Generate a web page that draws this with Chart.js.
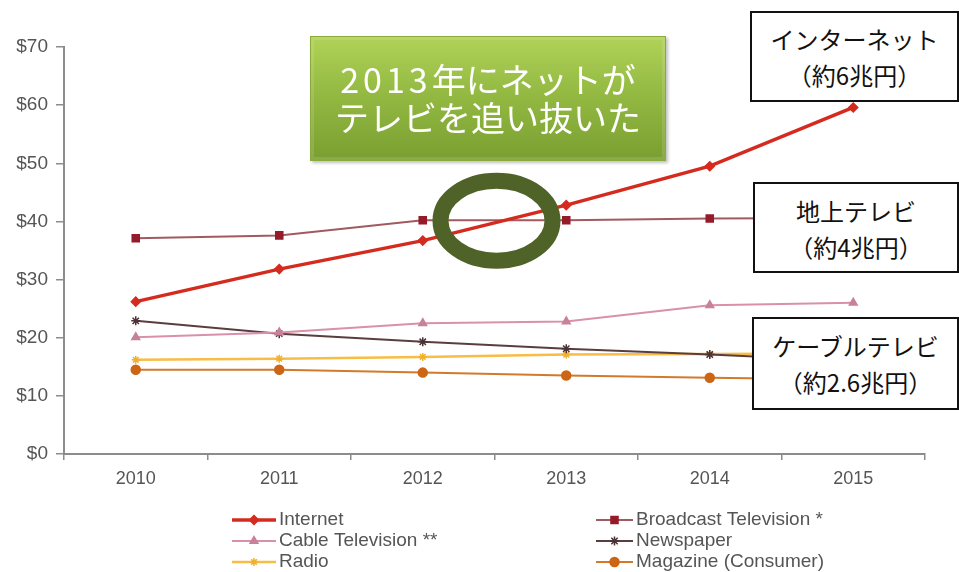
<!DOCTYPE html>
<html>
<head>
<meta charset="utf-8">
<script src="https://cdn.jsdelivr.net/npm/chart.js@4.4.1/dist/chart.umd.min.js"></script>
<style>
  html, body { margin: 0; padding: 0; background: #fff; }
  #wrap { position: relative; width: 959px; height: 572px; overflow: hidden; }
  .note {
    position: absolute; box-sizing: border-box; background: #fff;
    border: 2px solid #111; color: #111; text-align: center;
    font-family: "Noto Sans CJK JP", sans-serif; font-size: 24px; line-height: 36px;
  }
  #callout {
    position: absolute; left: 310px; top: 36px; width: 356px; height: 125px;
    box-sizing: border-box; text-align: center; color: #fff;
    font-family: "Noto Sans CJK JP", sans-serif; font-size: 34px; line-height: 38px;
    padding-top: 23px;
    background: linear-gradient(#b0d257, #94ba43 45%, #7a9f31);
    border: 1px solid #8aab3c;
    box-shadow: inset 0 0 0 3px rgba(255,255,255,0.12), 2px 2px 3px rgba(0,0,0,0.25);
  }
  #callout .yr { letter-spacing: 4px; }
</style>
</head>
<body>
<div id="wrap">
  <canvas id="mediaChart" width="959" height="572"></canvas>
  <div id="callout"><span class="yr">2013</span>年にネットが<br>テレビを追い抜いた</div>
  <div class="note" style="left:750px;top:11px;width:209px;height:91px;padding-top:8px;">インターネット<br>（約6兆円）</div>
  <div class="note" style="left:753px;top:182px;width:206px;height:91px;padding-top:9px;">地上テレビ<br>（約4兆円）</div>
  <div class="note" style="left:752px;top:317px;width:207px;height:93px;padding-top:9px;">ケーブルテレビ<br>（約2.6兆円）</div>
</div>
<script>
// datos (US$ bilhões)
const years = ['2010', '2011', '2012', '2013', '2014', '2015'];
const internet = [26.2, 31.8, 36.7, 42.8, 49.5, 59.6];
const broadcastTv = [37.1, 37.6, 40.2, 40.2, 40.5, 40.6];
const cableTv = [20.1, 20.9, 22.5, 22.8, 25.6, 26.0];
const newspaper = [22.9, 20.7, 19.3, 18.1, 17.1, 16.0];
const radio = [16.2, 16.4, 16.7, 17.1, 17.2, 17.3];
const magazine = [14.5, 14.5, 14.0, 13.5, 13.1, 12.8];
const yTicks = [0, 10, 20, 30, 40, 50, 60, 70];

// onde fica o círculo: entre 2012 e 2013, perto de $40
const crossIndex = 2.5;
const crossValue = 40.3;

const axisGray = '#8c8c8c';
const labelGray = '#555555';

function serie(label, data, color, pointColor, width, style, radius) {
    return {
        label: label,
        data: data,
        borderColor: color,
        backgroundColor: pointColor,
        pointBackgroundColor: pointColor,
        pointBorderColor: pointColor,
        borderWidth: width,
        pointStyle: style,
        pointRadius: radius,
        pointBorderWidth: 1.5,
        tension: 0,
        fill: false
    };
}

// legenda em duas colunas, desenhada no canvas
const legendPlugin = {
    id: 'twoColLegend',
    afterDraw(chart) {
        const ctx = chart.ctx;
        const cols = [{ x0: 232, x1: 276, tx: 279 }, { x0: 596, x1: 633, tx: 636 }];
        const rows = [520, 541, 562];
        ctx.save();
        chart.data.datasets.forEach((ds, i) => {
            const c = cols[i % 2];
            const y = rows[Math.floor(i / 2)];
            ctx.strokeStyle = ds.borderColor;
            ctx.lineWidth = ds.borderWidth;
            ctx.beginPath();
            ctx.moveTo(c.x0, y);
            ctx.lineTo(c.x1, y);
            ctx.stroke();
            ctx.fillStyle = ds.pointBackgroundColor;
            ctx.strokeStyle = ds.pointBorderColor;
            ctx.lineWidth = 1.5;
            Chart.helpers.drawPoint(ctx, {
                pointStyle: ds.pointStyle,
                radius: ds.pointRadius,
                rotation: 0,
                borderWidth: 1.5
            }, (c.x0 + c.x1) / 2, y);
            ctx.fillStyle = labelGray;
            ctx.font = '19px "Liberation Sans", Arial, sans-serif';
            ctx.textBaseline = 'middle';
            ctx.textAlign = 'left';
            ctx.fillText(ds.label, c.tx, y);
        });
        ctx.restore();
    }
};

// círculo verde no ponto de cruzamento
const ringPlugin = {
    id: 'crossRing',
    afterDatasetsDraw(chart) {
        const x = chart.scales.x.getPixelForValue(crossIndex);
        const y = chart.scales.y.getPixelForValue(crossValue);
        const ctx = chart.ctx;
        ctx.save();
        ctx.strokeStyle = '#4f6228';
        ctx.lineWidth = 16;
        ctx.beginPath();
        ctx.ellipse(x + 2, y + 1, 56, 40, 0, 0, Math.PI * 2);
        ctx.stroke();
        ctx.restore();
    }
};

const ctx = document.getElementById('mediaChart');
const mediaChart = new Chart(ctx, {
    type: 'line',
    data: {
        labels: years,
        datasets: [
            serie('Internet', internet, '#d52b1e', '#d52b1e', 3.5, 'rectRot', 4.5),
            serie('Broadcast Television *', broadcastTv, '#a05a60', '#951b2b', 2, 'rect', 5),
            serie('Cable Television **', cableTv, '#d990ab', '#c9809b', 2, 'triangle', 4.5),
            serie('Newspaper', newspaper, '#5b3d40', '#4a3236', 2, 'star', 4.5),
            serie('Radio', radio, '#f7bd45', '#f0b030', 2.5, 'star', 4),
            serie('Magazine (Consumer)', magazine, '#d27a2c', '#cc6514', 2, 'circle', 4.5)
        ]
    },
    options: {
        responsive: false,
        animation: false,
        layout: { padding: { top: 47, right: 34, bottom: 0, left: 0 } },
        plugins: {
            legend: { display: false },
            tooltip: { enabled: false }
        },
        scales: {
            x: {
                type: 'category',
                offset: true,
                afterFit: function(scale) { scale.height = 118; },
                border: { color: axisGray, width: 2 },
                grid: {
                    offset: true,
                    drawOnChartArea: false,
                    drawTicks: true,
                    tickLength: 6,
                    color: axisGray,
                    lineWidth: 1.5
                },
                ticks: {
                    color: labelGray,
                    padding: 8,
                    font: { family: '"Liberation Sans", Arial, sans-serif', size: 18 }
                }
            },
            y: {
                min: 0,
                max: 70,
                afterFit: function(scale) { scale.width = 64; },
                afterBuildTicks: function(scale) {
                    scale.ticks = yTicks.map(v => ({ value: v }));
                },
                border: { color: axisGray, width: 2 },
                grid: {
                    drawOnChartArea: false,
                    drawTicks: true,
                    tickLength: 8,
                    color: axisGray,
                    lineWidth: 1.5
                },
                ticks: {
                    color: labelGray,
                    padding: 8,
                    font: { family: '"Liberation Sans", Arial, sans-serif', size: 19 },
                    callback: function(value) { return '$' + value; }
                }
            }
        }
    },
    plugins: [ringPlugin, legendPlugin]
});
</script>
</body>
</html>
